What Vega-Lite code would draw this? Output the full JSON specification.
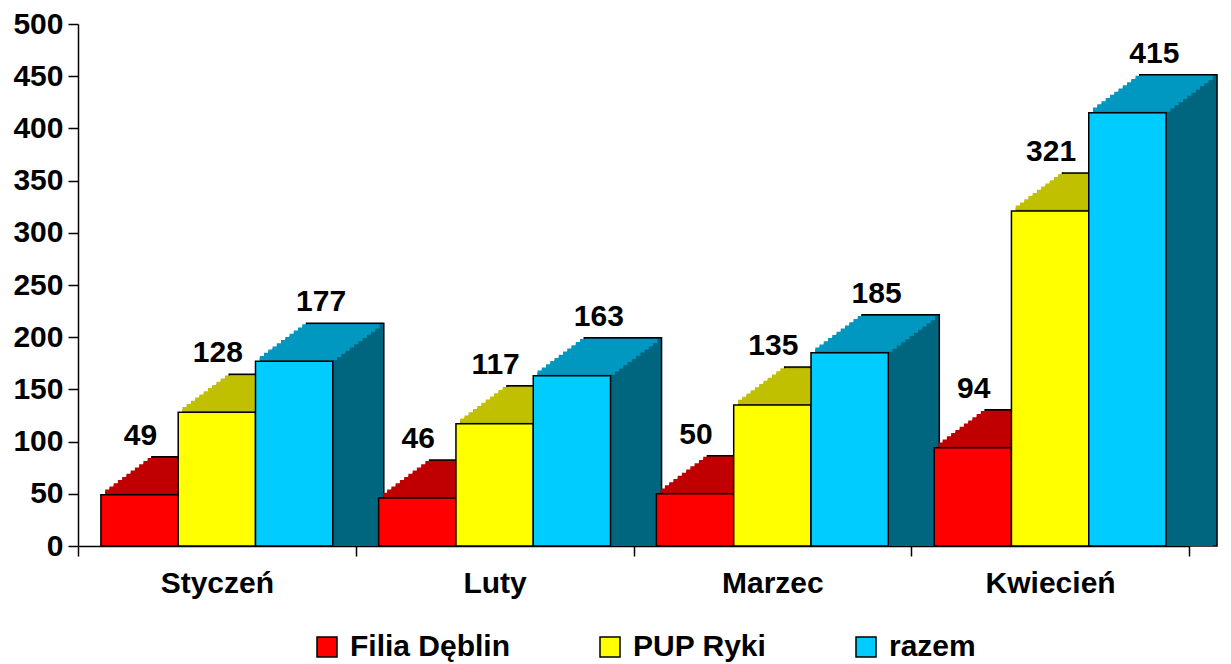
{
  "$schema": "https://vega.github.io/schema/vega-lite/v6.json",
  "width": 1111,
  "height": 522,
  "autosize": {"type": "none"},
  "padding": {"left": 78, "top": 24, "right": 42, "bottom": 118},
  "config": {"view": {"stroke": null}, "font": "Liberation Sans"},
  "data": {"values": [
    {"month": "Styczeń", "series": "Filia Dęblin", "value": 49},
    {"month": "Styczeń", "series": "PUP Ryki", "value": 128},
    {"month": "Styczeń", "series": "razem", "value": 177},
    {"month": "Luty", "series": "Filia Dęblin", "value": 46},
    {"month": "Luty", "series": "PUP Ryki", "value": 117},
    {"month": "Luty", "series": "razem", "value": 163},
    {"month": "Marzec", "series": "Filia Dęblin", "value": 50},
    {"month": "Marzec", "series": "PUP Ryki", "value": 135},
    {"month": "Marzec", "series": "razem", "value": 185},
    {"month": "Kwiecień", "series": "Filia Dęblin", "value": 94},
    {"month": "Kwiecień", "series": "PUP Ryki", "value": 321},
    {"month": "Kwiecień", "series": "razem", "value": 415}
  ]},
  "resolve": {"scale": {"xOffset": "independent", "color": "independent"}},
  "layer": [
    {"mark": {"type": "bar", "opacity": 1, "stroke": "black", "strokeWidth": 1.5, "yOffset": -38, "y2Offset": -38},
     "encoding": {
       "x": {"field": "month", "type": "nominal", "sort": ["Styczeń", "Luty", "Marzec", "Kwiecień"], "scale": {"paddingInner": 0, "paddingOuter": 0}},
       "xOffset": {"field": "series", "type": "nominal", "sort": ["Filia Dęblin", "PUP Ryki", "razem"], "scale": {"range": [73.9, 305.8]}},
       "y": {"field": "value", "type": "quantitative", "stack": null, "scale": {"domain": [0, 500], "nice": false}},
       "color": {"field": "series", "type": "nominal", "scale": {"domain": ["Filia Dęblin", "PUP Ryki", "razem"], "range": ["#800000", "#808000", "#006680"]}, "legend": null}}},
    {"mark": {"type": "bar", "opacity": 1, "yOffset": -34.83, "y2Offset": -34.83},
     "encoding": {"x": {"field": "month", "type": "nominal", "sort": ["Styczeń", "Luty", "Marzec", "Kwiecień"]}, "xOffset": {"field": "series", "type": "nominal", "sort": ["Filia Dęblin", "PUP Ryki", "razem"], "scale": {"range": [69.65, 301.55]}}, "y": {"field": "value", "type": "quantitative", "stack": null}, "color": {"field": "series", "type": "nominal", "scale": {"domain": ["Filia Dęblin", "PUP Ryki", "razem"], "range": ["#800000", "#808000", "#006680"]}, "legend": null}}},
    {"mark": {"type": "bar", "opacity": 1, "yOffset": -31.67, "y2Offset": -31.67},
     "encoding": {"x": {"field": "month", "type": "nominal", "sort": ["Styczeń", "Luty", "Marzec", "Kwiecień"]}, "xOffset": {"field": "series", "type": "nominal", "sort": ["Filia Dęblin", "PUP Ryki", "razem"], "scale": {"range": [65.4, 297.3]}}, "y": {"field": "value", "type": "quantitative", "stack": null}, "color": {"field": "series", "type": "nominal", "scale": {"domain": ["Filia Dęblin", "PUP Ryki", "razem"], "range": ["#800000", "#808000", "#006680"]}, "legend": null}}},
    {"mark": {"type": "bar", "opacity": 1, "yOffset": -28.5, "y2Offset": -28.5},
     "encoding": {"x": {"field": "month", "type": "nominal", "sort": ["Styczeń", "Luty", "Marzec", "Kwiecień"]}, "xOffset": {"field": "series", "type": "nominal", "sort": ["Filia Dęblin", "PUP Ryki", "razem"], "scale": {"range": [61.15, 293.05]}}, "y": {"field": "value", "type": "quantitative", "stack": null}, "color": {"field": "series", "type": "nominal", "scale": {"domain": ["Filia Dęblin", "PUP Ryki", "razem"], "range": ["#800000", "#808000", "#006680"]}, "legend": null}}},
    {"mark": {"type": "bar", "opacity": 1, "yOffset": -25.33, "y2Offset": -25.33},
     "encoding": {"x": {"field": "month", "type": "nominal", "sort": ["Styczeń", "Luty", "Marzec", "Kwiecień"]}, "xOffset": {"field": "series", "type": "nominal", "sort": ["Filia Dęblin", "PUP Ryki", "razem"], "scale": {"range": [56.9, 288.8]}}, "y": {"field": "value", "type": "quantitative", "stack": null}, "color": {"field": "series", "type": "nominal", "scale": {"domain": ["Filia Dęblin", "PUP Ryki", "razem"], "range": ["#800000", "#808000", "#006680"]}, "legend": null}}},
    {"mark": {"type": "bar", "opacity": 1, "yOffset": -22.17, "y2Offset": -22.17},
     "encoding": {"x": {"field": "month", "type": "nominal", "sort": ["Styczeń", "Luty", "Marzec", "Kwiecień"]}, "xOffset": {"field": "series", "type": "nominal", "sort": ["Filia Dęblin", "PUP Ryki", "razem"], "scale": {"range": [52.65, 284.55]}}, "y": {"field": "value", "type": "quantitative", "stack": null}, "color": {"field": "series", "type": "nominal", "scale": {"domain": ["Filia Dęblin", "PUP Ryki", "razem"], "range": ["#800000", "#808000", "#006680"]}, "legend": null}}},
    {"mark": {"type": "bar", "opacity": 1, "yOffset": -19, "y2Offset": -19},
     "encoding": {"x": {"field": "month", "type": "nominal", "sort": ["Styczeń", "Luty", "Marzec", "Kwiecień"]}, "xOffset": {"field": "series", "type": "nominal", "sort": ["Filia Dęblin", "PUP Ryki", "razem"], "scale": {"range": [48.4, 280.3]}}, "y": {"field": "value", "type": "quantitative", "stack": null}, "color": {"field": "series", "type": "nominal", "scale": {"domain": ["Filia Dęblin", "PUP Ryki", "razem"], "range": ["#800000", "#808000", "#006680"]}, "legend": null}}},
    {"mark": {"type": "bar", "opacity": 1, "yOffset": -15.83, "y2Offset": -15.83},
     "encoding": {"x": {"field": "month", "type": "nominal", "sort": ["Styczeń", "Luty", "Marzec", "Kwiecień"]}, "xOffset": {"field": "series", "type": "nominal", "sort": ["Filia Dęblin", "PUP Ryki", "razem"], "scale": {"range": [44.15, 276.05]}}, "y": {"field": "value", "type": "quantitative", "stack": null}, "color": {"field": "series", "type": "nominal", "scale": {"domain": ["Filia Dęblin", "PUP Ryki", "razem"], "range": ["#800000", "#808000", "#006680"]}, "legend": null}}},
    {"mark": {"type": "bar", "opacity": 1, "yOffset": -12.67, "y2Offset": -12.67},
     "encoding": {"x": {"field": "month", "type": "nominal", "sort": ["Styczeń", "Luty", "Marzec", "Kwiecień"]}, "xOffset": {"field": "series", "type": "nominal", "sort": ["Filia Dęblin", "PUP Ryki", "razem"], "scale": {"range": [39.9, 271.8]}}, "y": {"field": "value", "type": "quantitative", "stack": null}, "color": {"field": "series", "type": "nominal", "scale": {"domain": ["Filia Dęblin", "PUP Ryki", "razem"], "range": ["#800000", "#808000", "#006680"]}, "legend": null}}},
    {"mark": {"type": "bar", "opacity": 1, "yOffset": -9.5, "y2Offset": -9.5},
     "encoding": {"x": {"field": "month", "type": "nominal", "sort": ["Styczeń", "Luty", "Marzec", "Kwiecień"]}, "xOffset": {"field": "series", "type": "nominal", "sort": ["Filia Dęblin", "PUP Ryki", "razem"], "scale": {"range": [35.65, 267.55]}}, "y": {"field": "value", "type": "quantitative", "stack": null}, "color": {"field": "series", "type": "nominal", "scale": {"domain": ["Filia Dęblin", "PUP Ryki", "razem"], "range": ["#800000", "#808000", "#006680"]}, "legend": null}}},
    {"mark": {"type": "bar", "opacity": 1, "yOffset": -6.33, "y2Offset": -6.33},
     "encoding": {"x": {"field": "month", "type": "nominal", "sort": ["Styczeń", "Luty", "Marzec", "Kwiecień"]}, "xOffset": {"field": "series", "type": "nominal", "sort": ["Filia Dęblin", "PUP Ryki", "razem"], "scale": {"range": [31.4, 263.3]}}, "y": {"field": "value", "type": "quantitative", "stack": null}, "color": {"field": "series", "type": "nominal", "scale": {"domain": ["Filia Dęblin", "PUP Ryki", "razem"], "range": ["#800000", "#808000", "#006680"]}, "legend": null}}},
    {"mark": {"type": "bar", "opacity": 1, "yOffset": -3.17, "y2Offset": -3.17},
     "encoding": {"x": {"field": "month", "type": "nominal", "sort": ["Styczeń", "Luty", "Marzec", "Kwiecień"]}, "xOffset": {"field": "series", "type": "nominal", "sort": ["Filia Dęblin", "PUP Ryki", "razem"], "scale": {"range": [27.15, 259.05]}}, "y": {"field": "value", "type": "quantitative", "stack": null}, "color": {"field": "series", "type": "nominal", "scale": {"domain": ["Filia Dęblin", "PUP Ryki", "razem"], "range": ["#800000", "#808000", "#006680"]}, "legend": null}}},
    {"mark": {"type": "tick", "orient": "horizontal", "opacity": 1, "size": 77.3, "thickness": 4.2, "yOffset": -34.83},
     "encoding": {"x": {"field": "month", "type": "nominal", "sort": ["Styczeń", "Luty", "Marzec", "Kwiecień"]}, "xOffset": {"field": "series", "type": "nominal", "sort": ["Filia Dęblin", "PUP Ryki", "razem"], "scale": {"range": [69.65, 301.55]}}, "y": {"field": "value", "type": "quantitative"}, "color": {"field": "series", "type": "nominal", "scale": {"domain": ["Filia Dęblin", "PUP Ryki", "razem"], "range": ["#C00000", "#C0C000", "#0098C0"]}, "legend": null}}},
    {"mark": {"type": "tick", "orient": "horizontal", "opacity": 1, "size": 77.3, "thickness": 4.2, "yOffset": -31.67},
     "encoding": {"x": {"field": "month", "type": "nominal", "sort": ["Styczeń", "Luty", "Marzec", "Kwiecień"]}, "xOffset": {"field": "series", "type": "nominal", "sort": ["Filia Dęblin", "PUP Ryki", "razem"], "scale": {"range": [65.4, 297.3]}}, "y": {"field": "value", "type": "quantitative"}, "color": {"field": "series", "type": "nominal", "scale": {"domain": ["Filia Dęblin", "PUP Ryki", "razem"], "range": ["#C00000", "#C0C000", "#0098C0"]}, "legend": null}}},
    {"mark": {"type": "tick", "orient": "horizontal", "opacity": 1, "size": 77.3, "thickness": 4.2, "yOffset": -28.5},
     "encoding": {"x": {"field": "month", "type": "nominal", "sort": ["Styczeń", "Luty", "Marzec", "Kwiecień"]}, "xOffset": {"field": "series", "type": "nominal", "sort": ["Filia Dęblin", "PUP Ryki", "razem"], "scale": {"range": [61.15, 293.05]}}, "y": {"field": "value", "type": "quantitative"}, "color": {"field": "series", "type": "nominal", "scale": {"domain": ["Filia Dęblin", "PUP Ryki", "razem"], "range": ["#C00000", "#C0C000", "#0098C0"]}, "legend": null}}},
    {"mark": {"type": "tick", "orient": "horizontal", "opacity": 1, "size": 77.3, "thickness": 4.2, "yOffset": -25.33},
     "encoding": {"x": {"field": "month", "type": "nominal", "sort": ["Styczeń", "Luty", "Marzec", "Kwiecień"]}, "xOffset": {"field": "series", "type": "nominal", "sort": ["Filia Dęblin", "PUP Ryki", "razem"], "scale": {"range": [56.9, 288.8]}}, "y": {"field": "value", "type": "quantitative"}, "color": {"field": "series", "type": "nominal", "scale": {"domain": ["Filia Dęblin", "PUP Ryki", "razem"], "range": ["#C00000", "#C0C000", "#0098C0"]}, "legend": null}}},
    {"mark": {"type": "tick", "orient": "horizontal", "opacity": 1, "size": 77.3, "thickness": 4.2, "yOffset": -22.17},
     "encoding": {"x": {"field": "month", "type": "nominal", "sort": ["Styczeń", "Luty", "Marzec", "Kwiecień"]}, "xOffset": {"field": "series", "type": "nominal", "sort": ["Filia Dęblin", "PUP Ryki", "razem"], "scale": {"range": [52.65, 284.55]}}, "y": {"field": "value", "type": "quantitative"}, "color": {"field": "series", "type": "nominal", "scale": {"domain": ["Filia Dęblin", "PUP Ryki", "razem"], "range": ["#C00000", "#C0C000", "#0098C0"]}, "legend": null}}},
    {"mark": {"type": "tick", "orient": "horizontal", "opacity": 1, "size": 77.3, "thickness": 4.2, "yOffset": -19},
     "encoding": {"x": {"field": "month", "type": "nominal", "sort": ["Styczeń", "Luty", "Marzec", "Kwiecień"]}, "xOffset": {"field": "series", "type": "nominal", "sort": ["Filia Dęblin", "PUP Ryki", "razem"], "scale": {"range": [48.4, 280.3]}}, "y": {"field": "value", "type": "quantitative"}, "color": {"field": "series", "type": "nominal", "scale": {"domain": ["Filia Dęblin", "PUP Ryki", "razem"], "range": ["#C00000", "#C0C000", "#0098C0"]}, "legend": null}}},
    {"mark": {"type": "tick", "orient": "horizontal", "opacity": 1, "size": 77.3, "thickness": 4.2, "yOffset": -15.83},
     "encoding": {"x": {"field": "month", "type": "nominal", "sort": ["Styczeń", "Luty", "Marzec", "Kwiecień"]}, "xOffset": {"field": "series", "type": "nominal", "sort": ["Filia Dęblin", "PUP Ryki", "razem"], "scale": {"range": [44.15, 276.05]}}, "y": {"field": "value", "type": "quantitative"}, "color": {"field": "series", "type": "nominal", "scale": {"domain": ["Filia Dęblin", "PUP Ryki", "razem"], "range": ["#C00000", "#C0C000", "#0098C0"]}, "legend": null}}},
    {"mark": {"type": "tick", "orient": "horizontal", "opacity": 1, "size": 77.3, "thickness": 4.2, "yOffset": -12.67},
     "encoding": {"x": {"field": "month", "type": "nominal", "sort": ["Styczeń", "Luty", "Marzec", "Kwiecień"]}, "xOffset": {"field": "series", "type": "nominal", "sort": ["Filia Dęblin", "PUP Ryki", "razem"], "scale": {"range": [39.9, 271.8]}}, "y": {"field": "value", "type": "quantitative"}, "color": {"field": "series", "type": "nominal", "scale": {"domain": ["Filia Dęblin", "PUP Ryki", "razem"], "range": ["#C00000", "#C0C000", "#0098C0"]}, "legend": null}}},
    {"mark": {"type": "tick", "orient": "horizontal", "opacity": 1, "size": 77.3, "thickness": 4.2, "yOffset": -9.5},
     "encoding": {"x": {"field": "month", "type": "nominal", "sort": ["Styczeń", "Luty", "Marzec", "Kwiecień"]}, "xOffset": {"field": "series", "type": "nominal", "sort": ["Filia Dęblin", "PUP Ryki", "razem"], "scale": {"range": [35.65, 267.55]}}, "y": {"field": "value", "type": "quantitative"}, "color": {"field": "series", "type": "nominal", "scale": {"domain": ["Filia Dęblin", "PUP Ryki", "razem"], "range": ["#C00000", "#C0C000", "#0098C0"]}, "legend": null}}},
    {"mark": {"type": "tick", "orient": "horizontal", "opacity": 1, "size": 77.3, "thickness": 4.2, "yOffset": -6.33},
     "encoding": {"x": {"field": "month", "type": "nominal", "sort": ["Styczeń", "Luty", "Marzec", "Kwiecień"]}, "xOffset": {"field": "series", "type": "nominal", "sort": ["Filia Dęblin", "PUP Ryki", "razem"], "scale": {"range": [31.4, 263.3]}}, "y": {"field": "value", "type": "quantitative"}, "color": {"field": "series", "type": "nominal", "scale": {"domain": ["Filia Dęblin", "PUP Ryki", "razem"], "range": ["#C00000", "#C0C000", "#0098C0"]}, "legend": null}}},
    {"mark": {"type": "tick", "orient": "horizontal", "opacity": 1, "size": 77.3, "thickness": 4.2, "yOffset": -3.17},
     "encoding": {"x": {"field": "month", "type": "nominal", "sort": ["Styczeń", "Luty", "Marzec", "Kwiecień"]}, "xOffset": {"field": "series", "type": "nominal", "sort": ["Filia Dęblin", "PUP Ryki", "razem"], "scale": {"range": [27.15, 259.05]}}, "y": {"field": "value", "type": "quantitative"}, "color": {"field": "series", "type": "nominal", "scale": {"domain": ["Filia Dęblin", "PUP Ryki", "razem"], "range": ["#C00000", "#C0C000", "#0098C0"]}, "legend": null}}},
    {"mark": {"type": "bar", "opacity": 1, "stroke": "black", "strokeWidth": 1.5},
     "encoding": {
       "x": {"field": "month", "type": "nominal", "sort": ["Styczeń", "Luty", "Marzec", "Kwiecień"],
             "axis": {"title": null, "labelAngle": 0, "labelAlign": "center", "labelFont": "Liberation Sans", "labelFontSize": 30, "labelFontWeight": "bold", "labelColor": "black", "domainColor": "black", "domainWidth": 1.5, "tickColor": "black", "tickWidth": 1.5, "tickSize": 10, "tickBand": "extent", "labelPadding": 27}},
       "xOffset": {"field": "series", "type": "nominal", "sort": ["Filia Dęblin", "PUP Ryki", "razem"], "scale": {"range": [22.9, 254.8]}},
       "y": {"field": "value", "type": "quantitative", "stack": null,
             "axis": {"title": null, "values": [0, 50, 100, 150, 200, 250, 300, 350, 400, 450, 500], "grid": false, "labelFont": "Liberation Sans", "labelFontSize": 30, "labelFontWeight": "bold", "labelColor": "black", "domainColor": "black", "domainWidth": 1.5, "tickColor": "black", "tickWidth": 1.5, "tickSize": 10, "labelPadding": 5}},
       "color": {"field": "series", "type": "nominal",
                 "scale": {"domain": ["Filia Dęblin", "PUP Ryki", "razem"], "range": ["#FF0000", "#FFFF00", "#00CCFF"]},
                 "legend": {"orient": "none", "legendX": 234, "legendY": 608, "direction": "horizontal", "title": null, "padding": 0, "labelFont": "Liberation Sans", "labelFontSize": 30, "labelFontWeight": "bold", "labelColor": "black", "labelLimit": 400, "symbolType": "square", "symbolSize": 400, "symbolStrokeColor": "black", "symbolStrokeWidth": 1.5, "symbolOpacity": 1, "labelOffset": 8, "columnPadding": 84}}}},
    {"transform": [{"filter": "datum.series !== 'razem'"}],
     "mark": {"type": "text", "font": "Liberation Sans", "fontSize": 30, "fontWeight": "bold", "color": "black", "baseline": "alphabetic", "dy": -50, "dx": 1},
     "encoding": {"x": {"field": "month", "type": "nominal", "sort": ["Styczeń", "Luty", "Marzec", "Kwiecień"]}, "xOffset": {"field": "series", "type": "nominal", "sort": ["Filia Dęblin", "PUP Ryki", "razem"], "scale": {"domain": ["Filia Dęblin", "PUP Ryki", "razem"], "range": [22.9, 254.8]}}, "y": {"field": "value", "type": "quantitative"}, "text": {"field": "value", "type": "quantitative"}}},
    {"transform": [{"filter": "datum.series === 'razem'"}],
     "mark": {"type": "text", "font": "Liberation Sans", "fontSize": 30, "fontWeight": "bold", "color": "black", "baseline": "alphabetic", "dy": -50, "dx": 27},
     "encoding": {"x": {"field": "month", "type": "nominal", "sort": ["Styczeń", "Luty", "Marzec", "Kwiecień"]}, "xOffset": {"field": "series", "type": "nominal", "sort": ["Filia Dęblin", "PUP Ryki", "razem"], "scale": {"domain": ["Filia Dęblin", "PUP Ryki", "razem"], "range": [22.9, 254.8]}}, "y": {"field": "value", "type": "quantitative"}, "text": {"field": "value", "type": "quantitative"}}}
  ]
}
